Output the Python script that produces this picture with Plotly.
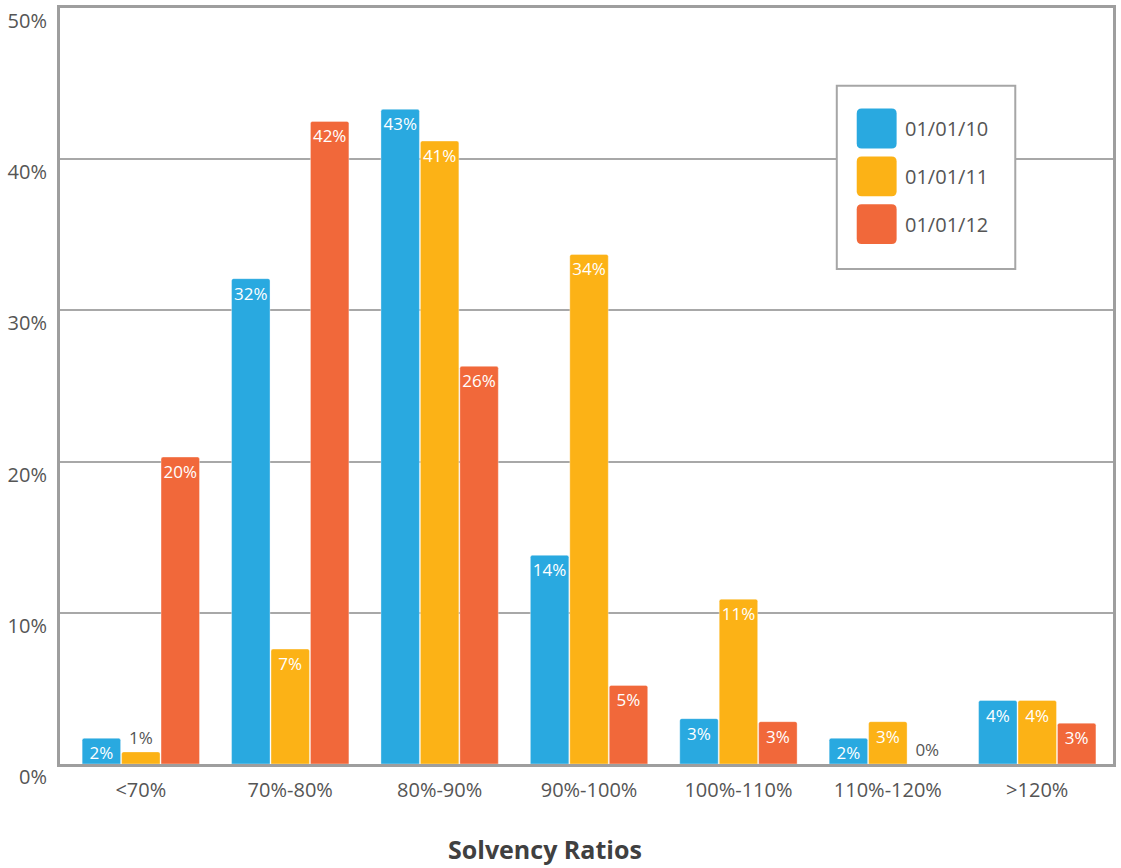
import plotly.graph_objects as go

categories = ["<70%", "70%-80%", "80%-90%", "90%-100%", "100%-110%", "110%-120%", ">120%"]
series_names = ["01/01/10", "01/01/11", "01/01/12"]
values_2010 = [1.7, 32.1, 43.3, 13.8, 3.0, 1.7, 4.2]
values_2011 = [0.8, 7.6, 41.2, 33.7, 10.9, 2.8, 4.2]
values_2012 = [20.3, 42.5, 26.3, 5.2, 2.8, 0.0, 2.7]
labels_2010 = ["2%", "32%", "43%", "14%", "3%", "2%", "4%"]
labels_2011 = ["1%", "7%", "41%", "34%", "11%", "3%", "4%"]
labels_2012 = ["20%", "42%", "26%", "5%", "3%", "0%", "3%"]
colors = ["#29A9E0", "#FCB216", "#F1683A"]
y_ticks = [0, 10, 20, 30, 40, 50]
y_tick_labels = ["0%", "10%", "20%", "30%", "40%", "50%"]
x_title = "Solvency Ratios"

FONT = "Open Sans"
W, H = 1121, 868
L, R, T, B = 60, 5, 5, 104
PW, PH = W - L - R, H - T - B

fig = go.Figure()
all_vals = [values_2010, values_2011, values_2012]
all_labels = [labels_2010, labels_2011, labels_2012]
for name, vals, labs, col in zip(series_names, all_vals, all_labels, colors):
    pos = ["outside" if v < 1.2 else "inside" for v in vals]
    fig.add_trace(go.Bar(
        x=categories, y=vals, name=name, text=labs,
        textposition=pos, insidetextanchor="end", textangle=0,
        textfont=dict(family=FONT, size=17),
        insidetextfont=dict(family=FONT, size=17, color="white"),
        outsidetextfont=dict(family=FONT, size=17, color="#555555"),
        cliponaxis=False, constraintext="none",
        marker=dict(color=col, cornerradius=2,
                    line=dict(color="rgba(255,255,255,0.35)", width=1)),
        hoverinfo="x+y+name", showlegend=False,
    ))

def px2x(px):
    return (px - L) / PW

def px2y(py):
    return (H - B - py) / PH

def rounded_rect(x0, y0, x1, y1, r):
    rx, ry = r / PW, r / PH
    X0, X1 = px2x(x0), px2x(x1)
    Yt, Yb = px2y(y0), px2y(y1)
    return (f"M {X0+rx},{Yt} L {X1-rx},{Yt} Q {X1},{Yt} {X1},{Yt-ry} "
            f"L {X1},{Yb+ry} Q {X1},{Yb} {X1-rx},{Yb} L {X0+rx},{Yb} "
            f"Q {X0},{Yb} {X0},{Yb+ry} L {X0},{Yt-ry} Q {X0},{Yt} {X0+rx},{Yt} Z")

shapes = [dict(type="rect", xref="paper", yref="paper",
               x0=px2x(839), x1=px2x(1018), y0=px2y(267), y1=px2y(83),
               line=dict(color="#A6A6A6", width=2), fillcolor="white", layer="above")]
annotations = []
for i, (name, col) in enumerate(zip(series_names, colors)):
    top = 106 + i * 48
    shapes.append(dict(type="path", xref="paper", yref="paper",
                       path=rounded_rect(859, top, 899, top + 40, 5),
                       fillcolor=col, line=dict(width=0), layer="above"))
    annotations.append(dict(xref="paper", yref="paper", x=px2x(905), y=px2y(top + 20),
                            text=name, showarrow=False, xanchor="left", yanchor="middle",
                            font=dict(family=FONT, size=20, color="#555555")))

annotations.append(dict(xref="paper", yref="paper", x=px2x(546), y=px2y(849),
                        text=f"<b>{x_title}</b>", showarrow=False,
                        xanchor="center", yanchor="middle",
                        font=dict(family=FONT, size=25, color="#404040")))

fig.update_layout(
    width=W, height=H, margin=dict(l=L, r=R, t=T, b=B),
    paper_bgcolor="white", plot_bgcolor="white",
    barmode="group", bargap=0.208, bargroupgap=0.025,
    shapes=shapes, annotations=annotations,
    font=dict(family=FONT, color="#555555"),
)
fig.update_xaxes(range=[-0.541, 6.507], showline=True, mirror=True,
                 linecolor="#9E9E9E", linewidth=3, ticks="",
                 tickfont=dict(family=FONT, size=20, color="#555555"),
                 ticklabelstandoff=6, showgrid=False, fixedrange=True)
fig.update_yaxes(range=[0, 50], tickvals=y_ticks, ticktext=y_tick_labels,
                 showline=True, mirror=True, linecolor="#9E9E9E", linewidth=3,
                 ticks="", gridcolor="#A8A8A8", gridwidth=1.5,
                 tickfont=dict(family=FONT, size=20, color="#555555"),
                 ticklabelshift=13, ticklabelstandoff=6, zeroline=False,
                 fixedrange=True)

fig.write_html("out.html")
